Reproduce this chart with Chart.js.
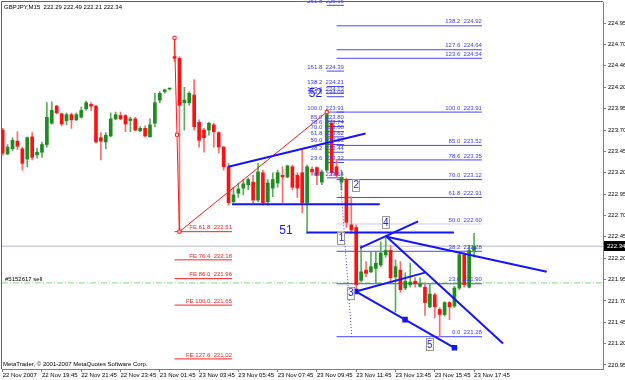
<!DOCTYPE html>
<html>
<head>
<meta charset="utf-8">
<script src="https://cdn.jsdelivr.net/npm/chart.js@4.4.1/dist/chart.umd.min.js"></script>
<style>
  html, body { margin: 0; padding: 0; background: #fff; }
  canvas { display: block; }
</style>
</head>
<body>
<canvas id="chart" width="625" height="380"></canvas>
<script>
// GBPJPY M15, one entry per bar (bar 0 = 22 Nov 17:45, bar 96 = 23 Nov 17:45)
const opens = [
  223.70, 223.42, 223.48, 223.57, 223.48, 223.36, 223.62, 223.41, 223.44, 223.53,
  223.78, 223.98, 223.89, 223.81, 223.88, 223.82, 223.85, 223.95, 224.00, 223.98,
  223.61, 223.56, 223.63, 223.83, 223.87, 223.87, 223.81, 223.83, 223.69, 223.72,
  223.62, 223.78, 224.05, 224.15, 224.18, 224.56, 224.54, 224.02, 224.02, 224.11,
  223.79, 223.70, 223.70, 223.76, 223.67, 223.50, 223.27, 222.86, 222.96, 223.02,
  223.06, 223.09, 222.88, 223.20, 222.86, 223.02, 223.08, 223.17, 223.15, 223.27,
  223.17, 223.20, 222.85, 223.24, 223.26, 223.09, 223.23, 223.78, 223.27, 223.09,
  223.12, 222.59, 222.56, 221.94, 222.06, 222.04, 222.08, 222.12, 222.24, 222.29,
  221.98, 222.06, 221.85, 221.89, 221.93, 221.87, 221.86, 221.63, 221.77, 221.60,
  221.54, 221.68, 221.64, 221.85, 222.24, 221.86, 222.29
];
const highs = [
  223.72, 223.53, 223.61, 223.68, 223.50, 223.62, 223.67, 223.49, 223.56, 224.02,
  224.03, 223.99, 223.90, 223.90, 223.90, 223.90, 223.97, 224.04, 224.02, 223.99,
  223.67, 223.67, 223.90, 223.91, 223.91, 223.88, 223.85, 223.85, 223.74, 223.75,
  223.83, 224.13, 224.15, 224.18, 224.19, 224.78, 224.56, 224.20, 224.15, 224.29,
  223.82, 223.72, 223.79, 223.78, 223.68, 223.51, 223.31, 223.03, 223.08, 223.12,
  223.14, 223.17, 223.31, 223.23, 223.12, 223.20, 223.23, 223.27, 223.29, 223.29,
  223.20, 223.47, 223.29, 223.27, 223.27, 223.23, 223.91, 223.82, 223.35, 223.23,
  223.14, 222.92, 222.59, 222.35, 222.16, 222.27, 222.27, 222.39, 222.45, 222.35,
  222.18, 222.16, 222.03, 222.14, 221.97, 221.97, 221.91, 221.89, 221.79, 221.62,
  221.69, 221.69, 221.87, 222.26, 222.26, 222.35, 222.49
];
const lows = [
  223.41, 223.41, 223.46, 223.47, 223.23, 223.27, 223.35, 223.37, 223.38, 223.50,
  223.77, 223.89, 223.75, 223.76, 223.72, 223.81, 223.84, 223.93, 223.93, 223.55,
  223.35, 223.48, 223.62, 223.82, 223.82, 223.68, 223.68, 223.69, 223.68, 223.62,
  223.62, 223.74, 224.02, 224.13, 224.17, 224.50, 222.51, 223.70, 223.99, 223.70,
  223.50, 223.44, 223.64, 223.50, 223.43, 223.23, 222.82, 222.85, 222.91, 222.94,
  223.00, 222.85, 222.86, 222.82, 222.82, 222.92, 223.03, 222.85, 223.14, 223.00,
  222.91, 222.73, 222.49, 223.17, 223.06, 223.06, 223.21, 223.17, 223.15, 223.00,
  222.56, 222.49, 221.83, 221.92, 221.98, 222.03, 221.91, 222.10, 222.21, 221.93,
  221.57, 221.80, 221.83, 221.86, 221.86, 221.86, 221.53, 221.62, 221.50, 221.28,
  221.52, 221.48, 221.62, 221.83, 221.86, 221.85, 222.21
];
const closes = [
  223.43, 223.50, 223.58, 223.51, 223.31, 223.61, 223.38, 223.44, 223.53, 223.85,
  223.93, 223.90, 223.77, 223.88, 223.82, 223.88, 223.93, 224.02, 223.98, 223.56,
  223.57, 223.64, 223.83, 223.88, 223.83, 223.77, 223.83, 223.70, 223.72, 223.63,
  223.76, 224.02, 224.13, 224.17, 224.18, 224.54, 223.99, 224.05, 224.13, 223.74,
  223.58, 223.61, 223.78, 223.68, 223.50, 223.27, 222.85, 222.94, 223.01, 223.07,
  223.12, 222.88, 223.21, 222.85, 223.08, 223.12, 223.20, 223.15, 223.28, 223.03,
  223.02, 222.85, 223.27, 223.21, 223.17, 223.21, 223.88, 223.20, 223.17, 223.14,
  222.62, 222.53, 221.89, 222.04, 222.02, 222.10, 222.14, 222.26, 222.29, 221.97,
  222.10, 221.83, 221.93, 221.92, 221.90, 221.90, 221.68, 221.78, 221.63, 221.54,
  221.68, 221.63, 221.85, 222.24, 221.89, 222.29, 222.34
];

// axis labels
const timeTickBars = [0, 8, 16, 24, 32, 40, 48, 56, 64, 72, 80, 88, 96];
const timeLabels = [
  "22 Nov 2007", "22 Nov 19:45", "22 Nov 21:45", "22 Nov 23:45", "23 Nov 01:45",
  "23 Nov 03:45", "23 Nov 05:45", "23 Nov 07:45", "23 Nov 09:45", "23 Nov 11:45",
  "23 Nov 13:45", "23 Nov 15:45", "23 Nov 17:45"
];
const priceTicks = [
  224.95, 224.70, 224.46, 224.20, 223.95, 223.70, 223.45, 223.20, 222.95,
  222.70, 222.45, 222.20, 221.95, 221.70, 221.45, 221.20, 220.95
];

// fibo expansion (red): anchor points A, B, C and levels
const feAnchors = [[35, 224.78], [36, 222.51], [66, 223.91]];
const feLevels = [61.8, 76.4, 86.0, 100.0, 127.6];
const fePrices = [222.51, 222.18, 221.96, 221.65, 221.02];
const feSpan = [35, 46.7];

// fibo retracement right (223.91 -> 221.28)
const fibLevels = [138.2, 127.6, 123.6, 100.0, 85.0, 78.6, 70.0, 61.8, 50.0, 38.2, 23.6, 0.0];
const fibPrices = [224.92, 224.64, 224.54, 223.91, 223.52, 223.35, 223.12, 222.91, 222.60, 222.28, 221.90, 221.28];
const fibSpan = [68, 97.6];

// small fibo near the high (223.91 -> 223.14)
const fib2Levels = [261.8, 161.8, 138.2, 127.6, 123.6, 100.0, 85.0, 78.6, 70.0, 61.8, 50.0, 38.2, 23.6, 0.0];
const fib2Prices = [225.16, 224.39, 224.21, 224.13, 224.09, 223.91, 223.80, 223.74, 223.68, 223.62, 223.53, 223.44, 223.32, 223.14];
const fib2Span = [66, 69.5];

// hand drawn trend lines: [bar1, price1, bar2, price2]
const trendLines = [
  [45.95, 223.27, 73.9, 223.66],
  [46.7, 222.83, 76.8, 222.83],
  [61.9, 222.50, 91.9, 222.50],
  [78.2, 222.45, 110.8, 222.04],
  [78.2, 222.45, 101.9, 221.20],
  [72.8, 222.32, 84.6, 222.63],
  [71.9, 221.81, 86.0, 222.03]
];
const selectedLine = [71.9, 221.81, 92.0, 221.15];
const dottedLine = [68.8, 223.11, 71.1, 221.27];

const bidPrice = 222.34;
const orderPrice = 221.91;

const waveLabels = [["51", 57.7, 222.52], ["52", 63.7, 224.12]];
const boxLabels = [["1", 68.9, 222.44], ["2", 71.9, 223.06], ["3", 70.8, 221.79], ["4", 77.9, 222.62], ["5", 86.9, 221.19]];

const X_MIN = -0.14, X_MAX = 122.26;
const SMALL = '6px "Liberation Sans", Arial, sans-serif';

const idx = opens.map((_, i) => i);
const bull = idx.map(i => closes[i] >= opens[i]);

function hLine(price, from, to) {
  return [{ x: from, y: price }, { x: to, y: price }];
}
function segment(l) {
  return [{ x: l[0], y: l[1] }, { x: l[2], y: l[3] }];
}
function lineDs(data, color, width, order, extra) {
  return Object.assign({
    type: "line", data: data, borderColor: color, borderWidth: width,
    pointRadius: 0, fill: false, tension: 0, order: order
  }, extra || {});
}

const datasets = [];

// bid and order lines across the whole chart
datasets.push(lineDs(hLine(bidPrice, X_MIN, X_MAX), "#b8b8c8", 1, 60));
datasets.push(lineDs(hLine(orderPrice, X_MIN, X_MAX), "#7fdc7f", 1, 59, { borderDash: [6, 2, 1, 2] }));

// fib retracement levels
fibPrices.forEach((p, k) => {
  const dotted = fibLevels[k] === 50.0;
  datasets.push(lineDs(hLine(p, fibSpan[0], fibSpan[1]), dotted ? "#9a9aff" : "#4646ff", 1, 50,
    dotted ? { borderDash: [1, 1] } : {}));
});
fib2Prices.forEach(p => {
  datasets.push(lineDs(hLine(p, fib2Span[0], fib2Span[1]), "#4646ff", 1, 50));
});
fePrices.forEach(p => {
  datasets.push(lineDs(hLine(p, feSpan[0], feSpan[1]), "#ff2020", 1, 50));
});

// candles: wicks under bodies
datasets.push({
  type: "bar", order: 40, grouped: false, barThickness: 1,
  data: idx.map(i => ({ x: i, y: [lows[i], highs[i]] })),
  backgroundColor: idx.map(i => bull[i] ? "#55b055" : "#ff6a6a")
});
datasets.push({
  type: "bar", order: 30, grouped: false, barThickness: 3, minBarLength: 1,
  data: idx.map(i => ({ x: i, y: [opens[i], closes[i]] })),
  backgroundColor: idx.map(i => bull[i] ? "#1f8a1f" : "#ff1010")
});

// fibo expansion zig-zag with its handles
const feMid = [(feAnchors[0][0] + feAnchors[1][0]) / 2, (feAnchors[0][1] + feAnchors[1][1]) / 2];
datasets.push(lineDs(
  [feAnchors[0], feMid, feAnchors[1], feAnchors[2]].map(a => ({ x: a[0], y: a[1] })),
  "#ff1a1a", 1, 20,
  { pointRadius: 2.2, pointStyle: "rect", pointBackgroundColor: "#fff", pointBorderColor: "#ff1a1a", pointBorderWidth: 1 }
));

// trend lines
trendLines.forEach(l => datasets.push(lineDs(segment(l), "#1414ff", 2, 10)));
datasets.push(lineDs(
  [{ x: selectedLine[0], y: selectedLine[1] },
   { x: (selectedLine[0] + selectedLine[2]) / 2, y: (selectedLine[1] + selectedLine[3]) / 2 },
   { x: selectedLine[2], y: selectedLine[3] }],
  "#1414ff", 2, 10,
  { pointRadius: 2.5, pointStyle: "rect", pointBackgroundColor: "#1414ff", pointBorderColor: "#1414ff" }
));
datasets.push(lineDs(segment(dottedLine), "#3c3cff", 1, 10, { borderDash: [1, 2] }));

const annotations = {
  id: "annotations",
  beforeDatasetsDraw(chart) {
    const { ctx, chartArea: a } = chart;
    ctx.save();
    ctx.strokeStyle = "#606060";
    ctx.lineWidth = 1;
    ctx.beginPath();
    ctx.moveTo(a.left - 0.5, a.bottom);
    ctx.lineTo(a.left - 0.5, a.top - 0.5);
    ctx.lineTo(a.right, a.top - 0.5);
    ctx.stroke();
    ctx.restore();
  },
  afterDatasetsDraw(chart) {
    const { ctx, scales: { x, y } } = chart;
    ctx.save();
    ctx.font = SMALL;
    ctx.textBaseline = "bottom";
    ctx.textAlign = "right";

    ctx.fillStyle = "#ff2020";
    fePrices.forEach((p, k) => {
      ctx.fillText("FE " + feLevels[k].toFixed(1) + "  " + p.toFixed(2), x.getPixelForValue(feSpan[1]), y.getPixelForValue(p) - 1);
    });
    ctx.fillStyle = "#3c3cff";
    fibPrices.forEach((p, k) => {
      ctx.fillText(fibLevels[k].toFixed(1) + "  " + p.toFixed(2), x.getPixelForValue(fibSpan[1]), y.getPixelForValue(p) - 1);
    });
    fib2Prices.forEach((p, k) => {
      ctx.fillText(fib2Levels[k].toFixed(1) + "  " + p.toFixed(2), x.getPixelForValue(fib2Span[1]), y.getPixelForValue(p) - 1);
    });

    ctx.textAlign = "left";
    ctx.fillStyle = "#000";
    ctx.fillText("#5152617 sell", 5, y.getPixelForValue(orderPrice) - 1);
    ctx.fillText("GBPJPY,M15  222.29 222.49 222.21 222.34", 4, 10);
    ctx.fillText("MetaTrader, \u00a9 2001-2007 MetaQuotes Software Corp.", 3, 367);

    ctx.textAlign = "center";
    ctx.textBaseline = "middle";
    ctx.fillStyle = "#1a1aff";
    ctx.font = '12px "Liberation Sans", Arial, sans-serif';
    waveLabels.forEach(l => ctx.fillText(l[0], x.getPixelForValue(l[1]), y.getPixelForValue(l[2])));

    ctx.font = '10px "Liberation Sans", Arial, sans-serif';
    boxLabels.forEach(l => {
      const cx = x.getPixelForValue(l[1]), cy = y.getPixelForValue(l[2]);
      ctx.fillStyle = "#fff";
      ctx.fillRect(cx - 3.5, cy - 6, 7, 12);
      ctx.strokeStyle = "#9a9a9a";
      ctx.lineWidth = 1;
      ctx.strokeRect(Math.round(cx - 3.5) + 0.5, Math.round(cy - 6) + 0.5, 7, 12);
      ctx.fillStyle = "#1a1aff";
      ctx.fillText(l[0], cx + 0.5, cy + 0.5);
    });
    ctx.restore();
  },
  afterDraw(chart) {
    const { ctx, chartArea: a, scales: { y } } = chart;
    const py = Math.round(y.getPixelForValue(bidPrice));
    ctx.save();
    ctx.fillStyle = "#000";
    ctx.fillRect(a.right + 1, py - 5, 625 - a.right - 1, 10);
    ctx.fillStyle = "#fff";
    ctx.font = SMALL;
    ctx.textAlign = "left";
    ctx.textBaseline = "middle";
    ctx.fillText(bidPrice.toFixed(2), a.right + 4, py + 0.5);
    ctx.restore();
  }
};

new Chart(document.getElementById("chart"), {
  data: { datasets: datasets },
  plugins: [annotations],
  options: {
    responsive: false,
    animation: false,
    devicePixelRatio: 1,
    layout: { padding: { left: 2, top: 2, right: 0, bottom: 0 }, autoPadding: false },
    plugins: { legend: { display: false }, tooltip: { enabled: false } },
    scales: {
      x: {
        type: "linear", min: X_MIN, max: X_MAX, offset: false,
        afterBuildTicks: s => { s.ticks = timeTickBars.map(v => ({ value: v })); },
        afterFit: s => { s.height = 11; s.paddingLeft = 0; s.paddingRight = 0; },
        grid: { drawOnChartArea: false, drawTicks: true, tickLength: 3, color: "#808080", offset: false },
        border: { display: true, color: "#808080" },
        ticks: {
          autoSkip: false, maxRotation: 0, minRotation: 0, align: "start", padding: 0,
          color: "#000", font: { family: '"Liberation Sans", Arial, sans-serif', size: 6 },
          callback: (v, i) => timeLabels[i]
        }
      },
      y: {
        type: "linear", position: "right", min: 220.902, max: 225.199,
        afterBuildTicks: s => { s.ticks = priceTicks.map(v => ({ value: v })); },
        afterFit: s => { s.width = 22; s.paddingTop = 0; s.paddingBottom = 0; },
        grid: { drawOnChartArea: false, drawTicks: true, tickLength: 3, color: "#808080" },
        border: { display: true, color: "#808080" },
        ticks: {
          autoSkip: false, padding: 2, color: "#000",
          font: { family: '"Liberation Sans", Arial, sans-serif', size: 6 },
          callback: v => v.toFixed(2)
        }
      }
    }
  }
});
</script>
</body>
</html>
